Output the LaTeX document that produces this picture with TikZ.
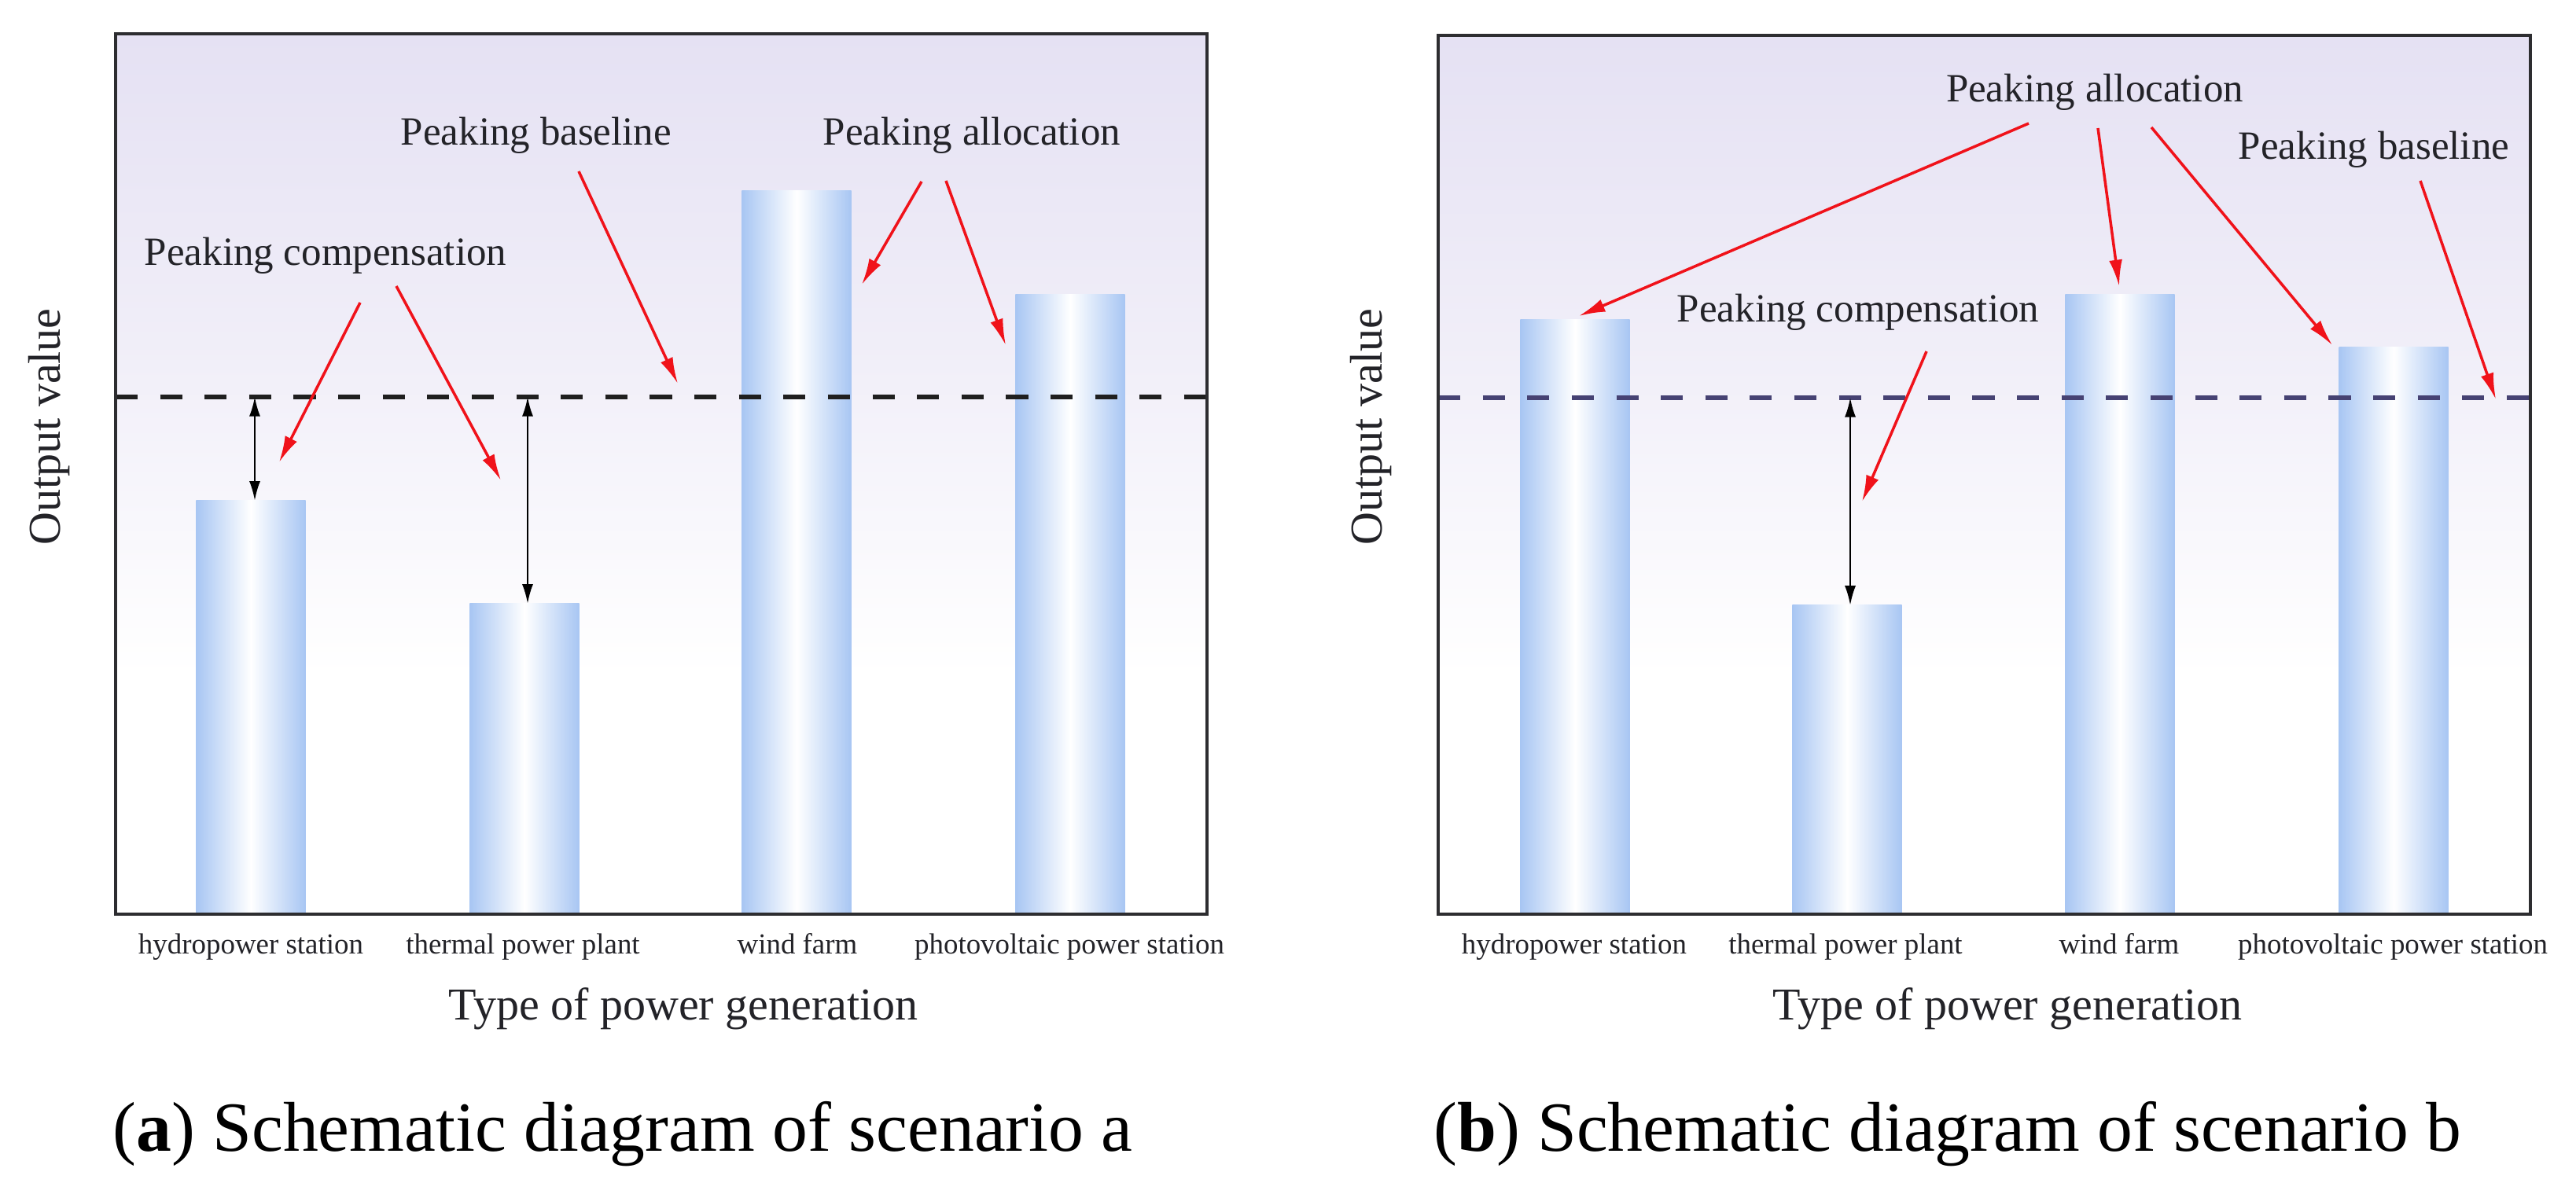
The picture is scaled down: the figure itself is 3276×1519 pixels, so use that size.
\documentclass[tikz,border=0pt]{standalone}
\usepackage{fontspec}
\setmainfont{Liberation Serif}
\usetikzlibrary{arrows.meta,calc}
\definecolor{lavbg}{RGB}{229,225,243}
\definecolor{barblue}{RGB}{168,198,243}
\definecolor{peakred}{RGB}{240,18,26}
\definecolor{slateline}{RGB}{70,66,115}
\definecolor{framegray}{RGB}{45,45,48}
\definecolor{labelgray}{RGB}{35,35,40}

\begin{document}
\begin{tikzpicture}[x=0.01cm, y=-0.01cm,
    genbar/.style={anchor=south, minimum width=1.39cm, inner sep=0pt, outer sep=0pt, left color=barblue, right color=barblue, middle color=white},
    peaklabel/.style={font=\fontsize{14.5}{17}\selectfont, text=labelgray, inner sep=0pt, anchor=base},
    catlabel/.style={font=\fontsize{10.5}{12}\selectfont, text=labelgray, inner sep=0pt, anchor=base},
    axtitle/.style={font=\fontsize{16.5}{19}\selectfont, text=labelgray, inner sep=0pt},
    subcap/.style={font=\fontsize{25.5}{30}\selectfont, inner sep=0pt, anchor=base},
    frame/.style={draw=framegray, line width=1.1pt},
    peakline/.style={line width=1.6pt, dash pattern=on 8pt off 8.1pt},
    redarrow/.style={draw=peakred, line width=1pt, -{Latex[length=9.5pt,width=4.8pt]}},
    gaparrow/.style={line width=0.6pt, {Latex[length=7pt,width=4pt]}-{Latex[length=7pt,width=4pt]}}]
\useasboundingbox (0,0) rectangle (3276,1519);

\fill[white] (147,43) rectangle (1535,1163);
\shade[top color=lavbg, bottom color=white, middle color=lavbg!55!white] (147,43) rectangle (1535,860);
\node[genbar, minimum height=5.26cm] (aHydro) at (319,1163) {};
\node[genbar, minimum height=3.95cm] (aThermal) at (667,1163) {};
\node[genbar, minimum height=9.20cm] (aWind) at (1013,1163) {};
\node[genbar, minimum height=7.88cm] (aSolar) at (1361,1163) {};
\coordinate (aDashL) at (147,505);
\coordinate (aDashR) at (1535,505);
\draw[peakline, black!88] (aDashL) -- (aDashR);
\draw[frame] (147,43) rectangle (1535,1163);

\node[peaklabel] (aBase) at (682,185) {Peaking baseline};
\node[peaklabel] (aAlloc) at (1236,185) {Peaking allocation};
\node[peaklabel] (aComp) at (414,338) {Peaking compensation};
\coordinate (aBaseTip) at (862,488);
\coordinate (aWindTip) at (1096,362);
\coordinate (aSolarTip) at (1279,439);
\coordinate (aHydroTip) at (355,588);
\coordinate (aThermalTip) at (637,611);
\draw[redarrow] ($(aBase.base)+(54,33)$) -- (aBaseTip);
\draw[redarrow] ($(aAlloc.base)+(-64,46)$) -- (aWindTip);
\draw[redarrow] ($(aAlloc.base)+(-33,45)$) -- (aSolarTip);
\draw[redarrow] ($(aComp.base)+(44,47)$) -- (aHydroTip);
\draw[redarrow] ($(aComp.base)+(90,26)$) -- (aThermalTip);
\coordinate (aHydroGap) at ($(aHydro.north)+(5,0)$);
\coordinate (aThermalGap) at ($(aThermal.north)+(4,0)$);
\draw[gaparrow] (aHydroGap |- aDashL) -- (aHydroGap);
\draw[gaparrow] (aThermalGap |- aDashL) -- (aThermalGap);

\node[catlabel] (aHydroName) at (319,1213) {hydropower station};
\node[catlabel] (aThermalName) at (665,1213) {thermal power plant};
\node[catlabel] (aWindName) at (1014,1213) {wind farm};
\node[catlabel] (aSolarName) at (1360,1213) {photovoltaic power station};
\node[axtitle, anchor=base] (aXTitle) at (869,1297) {Type of power generation};
\node[axtitle, rotate=90] (aYTitle) at (63,543) {Output value};
\node[subcap] (aCap) at (792,1464) {(\textbf{a}) Schematic diagram of scenario a};

\fill[white] (1829,45) rectangle (3218,1163);
\shade[top color=lavbg, bottom color=white, middle color=lavbg!55!white] (1829,45) rectangle (3218,860);
\node[genbar, minimum height=7.56cm] (bHydro) at (2003,1163) {};
\node[genbar, minimum height=3.93cm] (bThermal) at (2349,1163) {};
\node[genbar, minimum height=7.88cm] (bWind) at (2696,1163) {};
\node[genbar, minimum height=7.21cm] (bSolar) at (3044,1163) {};
\coordinate (bDashL) at (1829,506);
\coordinate (bDashR) at (3218,506);
\draw[peakline, slateline] (bDashL) -- (bDashR);
\draw[frame] (1829,45) rectangle (3218,1163);

\node[peaklabel] (bAlloc) at (2664,130) {Peaking allocation};
\node[peaklabel] (bBase) at (3019,203) {Peaking baseline};
\node[peaklabel] (bComp) at (2363,410) {Peaking compensation};
\coordinate (bHydroTip) at (2008,402);
\coordinate (bWindTip) at (2695,364);
\coordinate (bSolarTip) at (2966,439);
\coordinate (bBaseTip) at (3174,508);
\coordinate (bThermalTip) at (2368,638);
\draw[redarrow] ($(bAlloc.base)+(-84,27)$) -- (bHydroTip);
\draw[redarrow] ($(bAlloc.base)+(4,33)$) -- (bWindTip);
\draw[redarrow] ($(bAlloc.base)+(72,32)$) -- (bSolarTip);
\draw[redarrow] ($(bBase.base)+(59,27)$) -- (bBaseTip);
\draw[redarrow] ($(bComp.base)+(87,37)$) -- (bThermalTip);
\coordinate (bThermalGap) at ($(bThermal.north)+(4,0)$);
\draw[gaparrow] (bThermalGap |- bDashL) -- (bThermalGap);

\node[catlabel] (bHydroName) at (2002,1213) {hydropower station};
\node[catlabel] (bThermalName) at (2347,1213) {thermal power plant};
\node[catlabel] (bWindName) at (2695,1213) {wind farm};
\node[catlabel] (bSolarName) at (3043,1213) {photovoltaic power station};
\node[axtitle, anchor=base] (bXTitle) at (2553,1297) {Type of power generation};
\node[axtitle, rotate=90] (bYTitle) at (1744,543) {Output value};
\node[subcap] (bCap) at (2477,1464) {(\textbf{b}) Schematic diagram of scenario b};
\end{tikzpicture}
\end{document}
